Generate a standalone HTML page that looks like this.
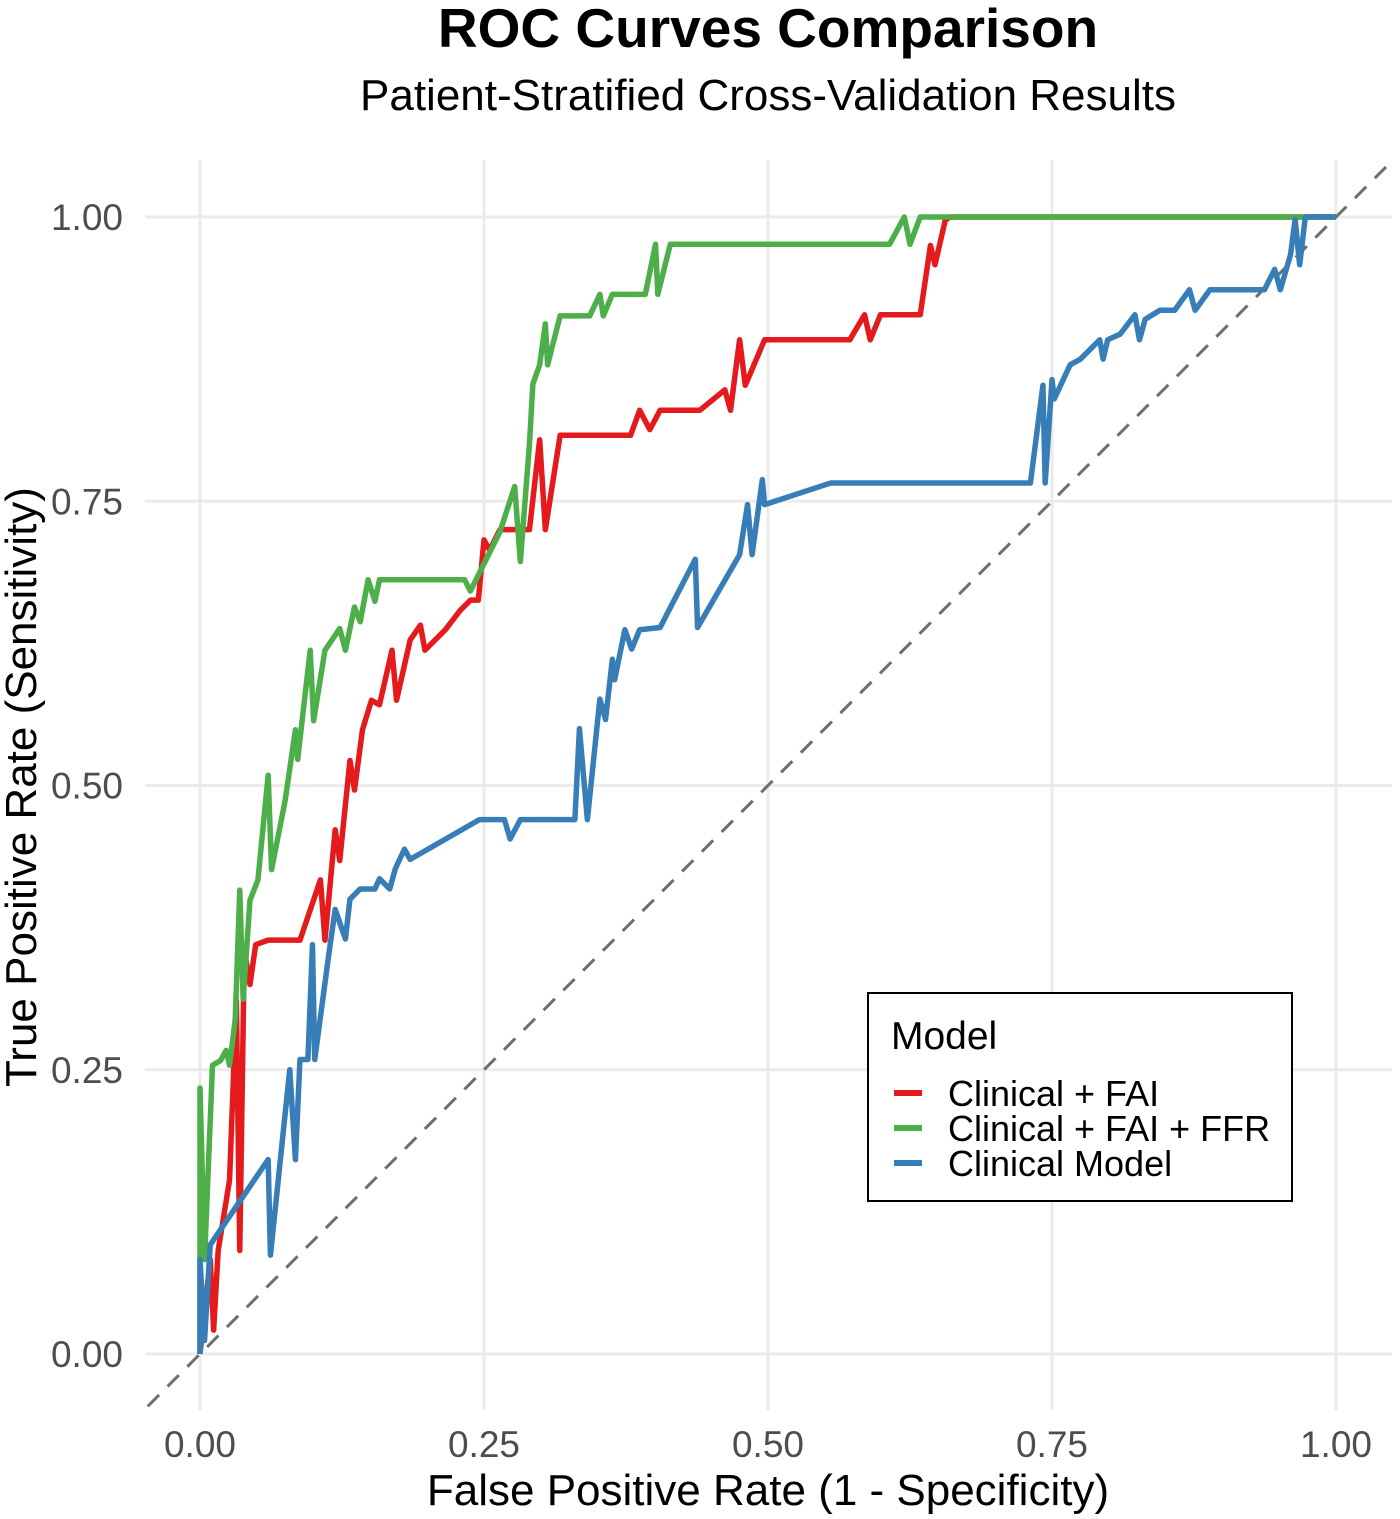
<!DOCTYPE html>
<html><head><meta charset="utf-8"><style>
html,body{margin:0;padding:0;background:#fff;}
svg{display:block;font-family:"Liberation Sans",sans-serif;}
</style></head><body>
<svg id="chart" width="1400" height="1519" viewBox="0 0 1400 1519" xmlns="http://www.w3.org/2000/svg">
<text x="768" y="47" text-anchor="middle" font-size="55" font-weight="bold" fill="#000">ROC Curves Comparison</text>
<text x="768" y="110" text-anchor="middle" font-size="44" fill="#000">Patient-Stratified Cross-Validation Results</text>
<g id="grid"></g>
<g id="ticks"></g>
<line id="diag" stroke="#6e6e6e" stroke-width="3" stroke-dasharray="16,12"/>
<g id="series"></g>
<text x="768" y="1505" text-anchor="middle" font-size="44" fill="#000">False Positive Rate (1 - Specificity)</text>
<text transform="translate(36,787) rotate(-90)" text-anchor="middle" font-size="44" fill="#000">True Positive Rate (Sensitivity)</text>
<g>
<rect x="868" y="993" width="424" height="208" fill="#fff" stroke="#000" stroke-width="2"/>
<text x="891" y="1049" font-size="39" fill="#000">Model</text>
<line x1="894" y1="1093" x2="922" y2="1093" stroke="#E41A1C" stroke-width="6"/>
<text x="948" y="1106" font-size="36" fill="#000">Clinical + FAI</text>
<line x1="894" y1="1128" x2="922" y2="1128" stroke="#4DAF4A" stroke-width="6"/>
<text x="948" y="1141" font-size="36" fill="#000">Clinical + FAI + FFR</text>
<line x1="894" y1="1163" x2="922" y2="1163" stroke="#377EB8" stroke-width="6"/>
<text x="948" y="1176" font-size="36" fill="#000">Clinical Model</text>
</g>
</svg>
<script>
const tickValues = [0, 0.25, 0.5, 0.75, 1];
const tickLabels = ["0.00", "0.25", "0.50", "0.75", "1.00"];
const seriesNames = ["Clinical + FAI", "Clinical + FAI + FFR", "Clinical Model"];
const redFpr = [0,.009,.012,.016,.026,.032,.035,.039,.044,.049,.060,.088,.106,.110,.119,.123,.132,.136,.143,.151,.158,.169,.173,.185,.194,.198,.216,.229,.238,.245,.250,.255,.264,.290,.299,.304,.317,.379,.387,.396,.405,.440,.462,.467,.475,.480,.497,.572,.585,.590,.599,.634,.643,.647,.656,.660,1];
const redTpr = [0,.083,.021,.091,.153,.311,.091,.355,.325,.360,.364,.364,.417,.364,.461,.434,.522,.496,.549,.575,.571,.619,.575,.628,.641,.619,.637,.654,.663,.663,.716,.707,.725,.725,.804,.725,.808,.808,.830,.813,.830,.830,.848,.830,.892,.852,.892,.892,.914,.892,.914,.914,.975,.958,.997,1,1];
const greenFpr = [0,0,.004,.011,.018,.023,.026,.031,.035,.038,.044,.051,.060,.063,.075,.084,.086,.097,.100,.110,.123,.128,.136,.141,.148,.154,.158,.233,.238,.251,.264,.277,.282,.290,.293,.299,.304,.306,.317,.343,.352,.355,.363,.392,.401,.403,.414,.607,.620,.625,.634,1];
const greenTpr = [0,.234,.083,.254,.258,.267,.254,.294,.408,.312,.399,.417,.509,.426,.487,.549,.523,.619,.557,.619,.638,.619,.657,.644,.681,.662,.681,.681,.671,.697,.723,.763,.697,.800,.853,.870,.906,.870,.913,.913,.932,.913,.932,.932,.976,.932,.976,.976,1,.976,1,1];
const blueFpr = [0,0,.004,.009,.060,.062,.079,.084,.088,.095,.099,.101,.114,.119,.128,.132,.141,.154,.158,.167,.172,.180,.185,.246,.268,.273,.282,.330,.334,.341,.352,.357,.363,.365,.374,.380,.387,.405,.436,.438,.475,.482,.486,.495,.497,.555,.731,.742,.744,.750,.752,.766,.775,.792,.795,.799,.810,.823,.827,.832,.845,.858,.871,.876,.889,.937,.946,.951,.960,.964,.968,.973,1];
const blueTpr = [0,.083,.012,.096,.171,.087,.250,.171,.259,.259,.360,.259,.356,.391,.365,.400,.409,.409,.418,.409,.427,.444,.435,.470,.470,.453,.470,.470,.550,.470,.576,.558,.611,.593,.637,.620,.637,.639,.699,.639,.703,.747,.703,.769,.747,.766,.766,.852,.766,.857,.840,.870,.875,.892,.875,.892,.897,.914,.892,.910,.918,.918,.936,.918,.936,.936,.954,.936,.967,.998,.958,1,1];

const X0 = 200, X1 = 1336, Y0 = 1354, Y1 = 217;
const sx = v => X0 + v * (X1 - X0);
const sy = v => Y0 - v * (Y0 - Y1);
const NS = "http://www.w3.org/2000/svg";
const grid = document.getElementById('grid');
const ticks = document.getElementById('ticks');
tickValues.forEach((t, i) => {
  const gv = document.createElementNS(NS, 'line');
  
  
  gv.setAttribute('x1', sx(t)); gv.setAttribute('x2', sx(t));
  gv.setAttribute('y1', 160); gv.setAttribute('y2', 1410);
  gv.setAttribute('stroke', '#ebebeb'); gv.setAttribute('stroke-width', 3);
  grid.appendChild(gv);
  const gh = document.createElementNS(NS, 'line');
  
  
  gh.setAttribute('y1', sy(t)); gh.setAttribute('y2', sy(t));
  gh.setAttribute('x1', 145); gh.setAttribute('x2', 1392);
  gh.setAttribute('stroke', '#ebebeb'); gh.setAttribute('stroke-width', 3);
  grid.appendChild(gh);
  const tx = document.createElementNS(NS, 'text');
  
  
  tx.setAttribute('x', sx(t)); tx.setAttribute('y', 1457);
  tx.setAttribute('text-anchor', 'middle'); tx.setAttribute('font-size', 37); tx.setAttribute('fill', '#4d4d4d');
  tx.textContent = tickLabels[i];
  ticks.appendChild(tx);
  const ty = document.createElementNS(NS, 'text');
  
  
  ty.setAttribute('x', 123); ty.setAttribute('y', sy(t) + 13);
  ty.setAttribute('text-anchor', 'end'); ty.setAttribute('font-size', 37); ty.setAttribute('fill', '#4d4d4d');
  ty.textContent = tickLabels[i];
  ticks.appendChild(ty);
});
const d = document.getElementById('diag');
d.setAttribute('x1', sx(-0.046)); d.setAttribute('y1', sy(-0.046));
d.setAttribute('x2', sx(1.05)); d.setAttribute('y2', sy(1.05));

const series = [[redFpr, redTpr, '#E41A1C', 'curve-clinical-fai'], [greenFpr, greenTpr, '#4DAF4A', 'curve-clinical-fai-ffr'], [blueFpr, blueTpr, '#377EB8', 'curve-clinical-model']];
const sg = document.getElementById('series');
series.forEach(s => {
  const p = document.createElementNS(NS, 'polyline');
  
  
  p.setAttribute('points', s[0].map((f, i) => sx(f) + ',' + sy(s[1][i])).join(' '));
  p.setAttribute('fill', 'none'); p.setAttribute('stroke', s[2]);
  p.setAttribute('stroke-width', 5.5); p.setAttribute('stroke-linejoin', 'round');
  sg.appendChild(p);
});
</script>
</body></html>
